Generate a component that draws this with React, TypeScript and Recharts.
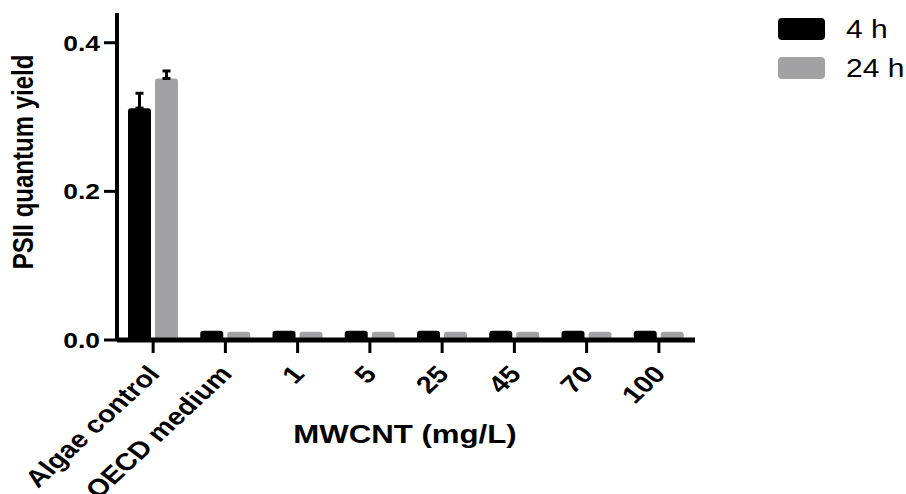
import React from 'react';
import { BarChart, Bar, XAxis, YAxis, ErrorBar, Legend } from 'recharts';

// Treatments along the x axis
const categories = ['Algae control', 'OECD medium', '1', '5', '25', '45', '70', '100'];
// Mean PSII quantum yield after 4 h and 24 h, with upper SD
const yield4h = [0.312, 0.0125, 0.0125, 0.0125, 0.0125, 0.0125, 0.0125, 0.0125];
const sd4h: (number | null)[] = [0.02, null, null, null, null, null, null, null];
const yield24h = [0.352, 0.011, 0.011, 0.011, 0.011, 0.011, 0.011, 0.011];
const sd24h: (number | null)[] = [0.01, null, null, null, null, null, null, null];
const yTicks = [0, 0.2, 0.4];
const seriesNames = ['4 h', '24 h'];

const data = categories.map((c, i) => ({
  name: c,
  h4: yield4h[i],
  h4Err: sd4h[i] == null ? null : [0, sd4h[i]],
  h24: yield24h[i],
  h24Err: sd24h[i] == null ? null : [0, sd24h[i]],
}));

const FONT = '"Liberation Sans", Arial, Helvetica, sans-serif';
const SX = 1.2;
const BLACK = '#000000';
const GREY = '#a2a2a5';

const YTick = (props: any) => {
  const { x, y, payload } = props;
  return (
    <text
      transform={`translate(${x},${y}) scale(${SX},1)`}
      textAnchor="end"
      dy="0.36em"
      fontFamily={FONT}
      fontWeight={700}
      fontSize={22}
      fill="#000"
    >
      {Number(payload.value).toFixed(1)}
    </text>
  );
};

const XTick = (props: any) => {
  const { x, y, payload } = props;
  return (
    <text
      transform={`translate(${x + 8},${y + 22}) scale(${SX},1) rotate(-48)`}
      textAnchor="end"
      fontFamily={FONT}
      fontWeight={700}
      fontSize={24}
      fill="#000"
    >
      {payload.value}
    </text>
  );
};

const LegendBox = (props: any) => {
  const items = [...(props.payload || [])].sort(
    (a: any, b: any) => seriesNames.indexOf(a.value) - seriesNames.indexOf(b.value)
  );
  return (
    <svg width={140} height={80} style={{ display: 'block' }}>
      {items.map((it: any, i: number) => (
        <g key={it.value}>
          <rect x={8} y={3 + i * 39} width={47} height={22} rx={4} fill={it.color} />
          <text
            transform={`translate(76,${23 + i * 39}) scale(${SX},1)`}
            fontFamily={FONT}
            fontSize={25}
            fill="#000"
          >
            {it.value}
          </text>
        </g>
      ))}
    </svg>
  );
};

export default function App() {
  return (
    <div style={{ position: 'absolute', left: 0, top: 0, width: 906, height: 494, background: '#fff' }}>
      <BarChart
        width={906}
        height={494}
        data={data}
        margin={{ top: 13, right: 211, bottom: 0, left: 0 }}
        barCategoryGap={11}
        barGap={4}
      >
        <Bar dataKey="h4" name={seriesNames[0]} fill={BLACK} radius={[3, 3, 0, 0]} isAnimationActive={false}>
          <ErrorBar dataKey="h4Err" width={4} strokeWidth={3} stroke="#000" direction="y" isAnimationActive={false} />
        </Bar>
        <Bar dataKey="h24" name={seriesNames[1]} fill={GREY} radius={[3, 3, 0, 0]} isAnimationActive={false}>
          <ErrorBar dataKey="h24Err" width={4} strokeWidth={3} stroke="#000" direction="y" isAnimationActive={false} />
        </Bar>
        <XAxis
          dataKey="name"
          height={154}
          interval={0}
          tickSize={13}
          tickMargin={0}
          axisLine={{ stroke: '#000', strokeWidth: 5 }}
          tickLine={{ stroke: '#000', strokeWidth: 3 }}
          tick={<XTick />}
        />
        <YAxis
          width={117}
          domain={[0, 0.44]}
          ticks={yTicks}
          tickSize={13}
          tickMargin={4}
          axisLine={{ stroke: '#000', strokeWidth: 4 }}
          tickLine={{ stroke: '#000', strokeWidth: 3 }}
          tick={<YTick />}
          label={{
            value: 'PSII quantum yield',
            position: 'insideLeft',
            content: () => (
              <text
                transform={`translate(33,162) scale(${SX},1) rotate(-90)`}
                textAnchor="middle"
                fontFamily={FONT}
                fontWeight={700}
                fontSize={24}
                fill="#000"
              >
                PSII quantum yield
              </text>
            ),
          }}
        />
        <Legend
          layout="vertical"
          align="center"
          verticalAlign="middle"
          wrapperStyle={{ left: 770, top: 15, width: 140, height: 80 }}
          content={<LegendBox />}
        />
        <text
          transform={`translate(405,443) scale(${SX},1)`}
          textAnchor="middle"
          fontFamily={FONT}
          fontWeight={700}
          fontSize={26}
          fill="#000"
        >
          MWCNT (mg/L)
        </text>
      </BarChart>
    </div>
  );
}
